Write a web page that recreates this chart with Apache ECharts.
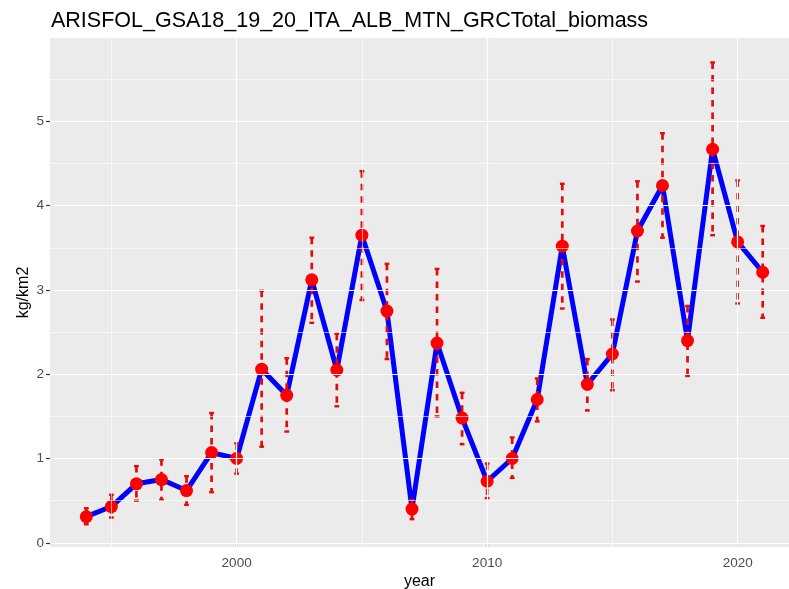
<!DOCTYPE html>
<html>
<head>
<meta charset="utf-8">
<script src="https://cdn.jsdelivr.net/npm/echarts@6/dist/echarts.min.js"></script>
<style>
html, body { margin: 0; padding: 0; background: #fff; }
#chart { width: 789px; height: 589px; }
</style>
</head>
<body>
<div id="chart"></div>
<script>
let years = [1994, 1995, 1996, 1997, 1998, 1999, 2000, 2001, 2002, 2003, 2004, 2005, 2006, 2007,
	2008, 2009, 2010, 2011, 2012, 2013, 2014, 2015, 2016, 2017, 2018, 2019, 2020, 2021]
let biomass = [0.31, 0.43, 0.70, 0.75, 0.62, 1.07, 1.00, 2.06, 1.75, 3.12, 2.05, 3.65, 2.75, 0.40,
	2.37, 1.48, 0.73, 1.00, 1.70, 3.52, 1.88, 2.24, 3.70, 4.24, 2.40, 4.67, 3.57, 3.21]
let lower = [0.22, 0.30, 0.50, 0.51, 0.45, 0.60, 0.82, 1.14, 1.32, 2.61, 1.62, 2.88, 2.18, 0.28,
	1.50, 1.17, 0.53, 0.77, 1.44, 2.78, 1.57, 1.81, 3.10, 3.62, 1.98, 3.65, 2.84, 2.67]
let upper = [0.41, 0.57, 0.91, 0.99, 0.79, 1.54, 1.18, 2.99, 2.19, 3.62, 2.48, 4.41, 3.31, 0.51,
	3.25, 1.78, 0.94, 1.25, 1.95, 4.26, 2.18, 2.65, 4.29, 4.86, 2.81, 5.70, 4.30, 3.76]

let xTicks = [2000, 2010, 2020]
let xMinor = [1995, 2005, 2015]
let yTicks = [0, 1, 2, 3, 4, 5]
let yMinor = [0.5, 1.5, 2.5, 3.5, 4.5, 5.5]

let chart = echarts.init(document.getElementById('chart'))
let font = 'Liberation Sans, Arial, sans-serif'

// grid lines (ggplot style) drawn as markLines so they follow the axis scales
let gridLines = []
xMinor.forEach(v => gridLines.push({ xAxis: v, lineStyle: { width: 0.6 } }))
yMinor.forEach(v => gridLines.push({ yAxis: v, lineStyle: { width: 0.6 } }))
xTicks.forEach(v => gridLines.push({ xAxis: v, lineStyle: { width: 1.2 } }))
yTicks.forEach(v => gridLines.push({ yAxis: v, lineStyle: { width: 1.2 } }))

let lineData = years.map((y, i) => [y, biomass[i]])
let barData = years.map((y, i) => [y, lower[i], upper[i]])

let option = {
	animation: false,
	backgroundColor: '#fff',
	title: {
		text: 'ARISFOL_GSA18_19_20_ITA_ALB_MTN_GRCTotal_biomass',
		left: 46,
		top: 5,
		textStyle: {
			fontFamily: font,
			fontWeight: 'normal',
			fontSize: 21.5,
			color: '#000'
		}
	},
	grid: {
		left: 50,
		top: 38,
		width: 739,
		height: 509,
		outerBoundsMode: 'none',
		containLabel: false,
		show: true,
		backgroundColor: '#EBEBEB',
		borderWidth: 0
	},
	xAxis: {
		type: 'value',
		min: 1992.55,
		max: 2022.05,
		name: 'year',
		nameLocation: 'middle',
		nameGap: 27,
		nameMoveOverlap: false,
		nameTextStyle: { fontFamily: font, fontSize: 16, color: '#000' },
		axisLine: { show: false },
		splitLine: { show: false },
		axisTick: {
			show: true,
			length: 4,
			customValues: xTicks,
			lineStyle: { color: '#333', width: 1.2 }
		},
		axisLabel: {
			customValues: xTicks,
			margin: 9,
			fontFamily: font,
			fontSize: 13.5,
			color: '#4D4D4D',
			formatter: v => String(v)
		}
	},
	yAxis: {
		type: 'value',
		min: -0.05,
		max: 5.99,
		name: 'kg/km2',
		nameLocation: 'middle',
		nameRotate: 90,
		nameGap: 18,
		nameMoveOverlap: false,
		nameTextStyle: { fontFamily: font, fontSize: 16, color: '#000' },
		axisLine: { show: false },
		splitLine: { show: false },
		axisTick: {
			show: true,
			length: 4,
			customValues: yTicks,
			lineStyle: { color: '#333', width: 1.2 }
		},
		axisLabel: {
			customValues: yTicks,
			margin: 6,
			fontFamily: font,
			fontSize: 13.5,
			color: '#4D4D4D',
			formatter: v => String(v)
		}
	},
	series: [
		{
			type: 'line',
			data: [],
			silent: true,
			z: 1,
			markLine: {
				silent: true,
				symbol: 'none',
				label: { show: false },
				lineStyle: { color: '#fff', type: 'solid' },
				data: gridLines
			}
		},
		{
			type: 'line',
			data: lineData,
			z: 2,
			showSymbol: false,
			lineStyle: { color: '#0000FF', width: 5 }
		},
		{
			type: 'custom',
			z: 3,
			data: barData,
			renderItem: function(params, api) {
				let x = api.value(0)
				let lo = api.coord([x, api.value(1)])
				let hi = api.coord([x, api.value(2)])
				let cap = 2.4
				let stroke = '#E30B0B'
				return {
					type: 'group',
					children: [
						{
							type: 'line',
							shape: { x1: hi[0], y1: hi[1], x2: lo[0], y2: lo[1] },
							style: { stroke: stroke, lineWidth: 2.7, lineDash: [6.5, 6] }
						},
						{
							type: 'line',
							shape: { x1: hi[0] - cap, y1: hi[1], x2: hi[0] + cap, y2: hi[1] },
							style: { stroke: stroke, lineWidth: 2.4 }
						},
						{
							type: 'line',
							shape: { x1: lo[0] - cap, y1: lo[1], x2: lo[0] + cap, y2: lo[1] },
							style: { stroke: stroke, lineWidth: 2.4 }
						}
					]
				}
			}
		},
		{
			type: 'scatter',
			data: lineData,
			z: 4,
			symbolSize: 13,
			itemStyle: { color: '#FF0000', opacity: 1 }
		}
	]
}
chart.setOption(option)
</script>
</body>
</html>
